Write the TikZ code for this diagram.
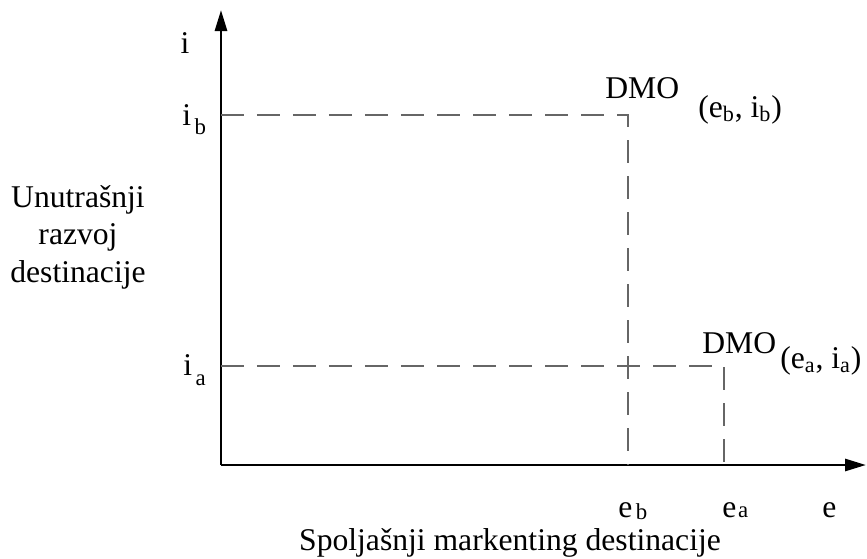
\documentclass[tikz,border=0pt]{standalone}
\usepackage{fontspec}
\setmainfont{Liberation Serif}
\usetikzlibrary{arrows.meta}

% small lowered letter for the index of a label
\newcommand{\subtxt}[2][0pt]{\raisebox{#1}{\fontsize{13}{15}\selectfont #2}}

\begin{document}
\begin{tikzpicture}[>={Triangle[length=0.42cm,width=0.24cm]},
    font=\fontsize{18}{21.3}\selectfont,
    axis/.style={line width=1.6pt,->},
    guide/.style={black!60,line width=1.1pt,dash pattern=on 0.46cm off 0.26cm},
    lbl/.style={inner sep=0pt,anchor=base west}]
  \useasboundingbox (-4.42,-1.86) rectangle (12.92,9.3);
  % axes
  \coordinate (O) at (0,0);
  \coordinate (xend) at (12.9,0);
  \coordinate (yend) at (0,9.1);
  \draw[axis] (O) -- (xend);
  \draw[axis] (O) -- (yend);
  % the two positions of the DMO
  \coordinate (dmob) at (8.14,7.0);
  \coordinate (dmoa) at (10.06,1.98);
  \draw[guide] (O |- dmob) -- (dmob) -- (dmob |- O);
  \draw[guide] (O |- dmoa) -- (dmoa) -- (dmoa |- O);
  % axis labels
  \node[lbl,anchor=base] (ilab) at (-0.72,8.24) {i};
  \node[lbl] (iblab) at (-0.78,6.8) {i\kern2pt\subtxt[-5.5pt]{b}};
  \node[lbl] (ialab) at (-0.76,1.8) {i\kern2pt\subtxt[-6pt]{a}};
  \node[lbl] (eblab) at (7.94,-1.04) {e\kern2pt\subtxt[-1.5pt]{b}};
  \node[lbl] (ealab) at (10.02,-1.04) {e\kern1pt\subtxt{a}};
  \node[lbl] (elab) at (12.02,-1.04) {e};
  % DMO points
  \node[lbl] (dmobname) at (7.68,7.34) {DMO};
  \node[lbl] (dmobval) at (9.54,6.96) {(e\textsubscript{b}, i\textsubscript{b})};
  \node[lbl] (dmoaname) at (9.62,2.24) {DMO};
  \node[lbl] (dmoaval) at (11.18,1.94) {(e\textsubscript{a}, i\textsubscript{a})};
  % axis titles
  \node[inner sep=0pt,align=center] (ytitle) at (-2.86,4.56)
    {Unutrašnji\\razvoj\\destinacije};
  \node[inner sep=0pt,anchor=base] (xtitle) at (5.78,-1.7)
    {Spoljašnji markenting destinacije};
\end{tikzpicture}
\end{document}
